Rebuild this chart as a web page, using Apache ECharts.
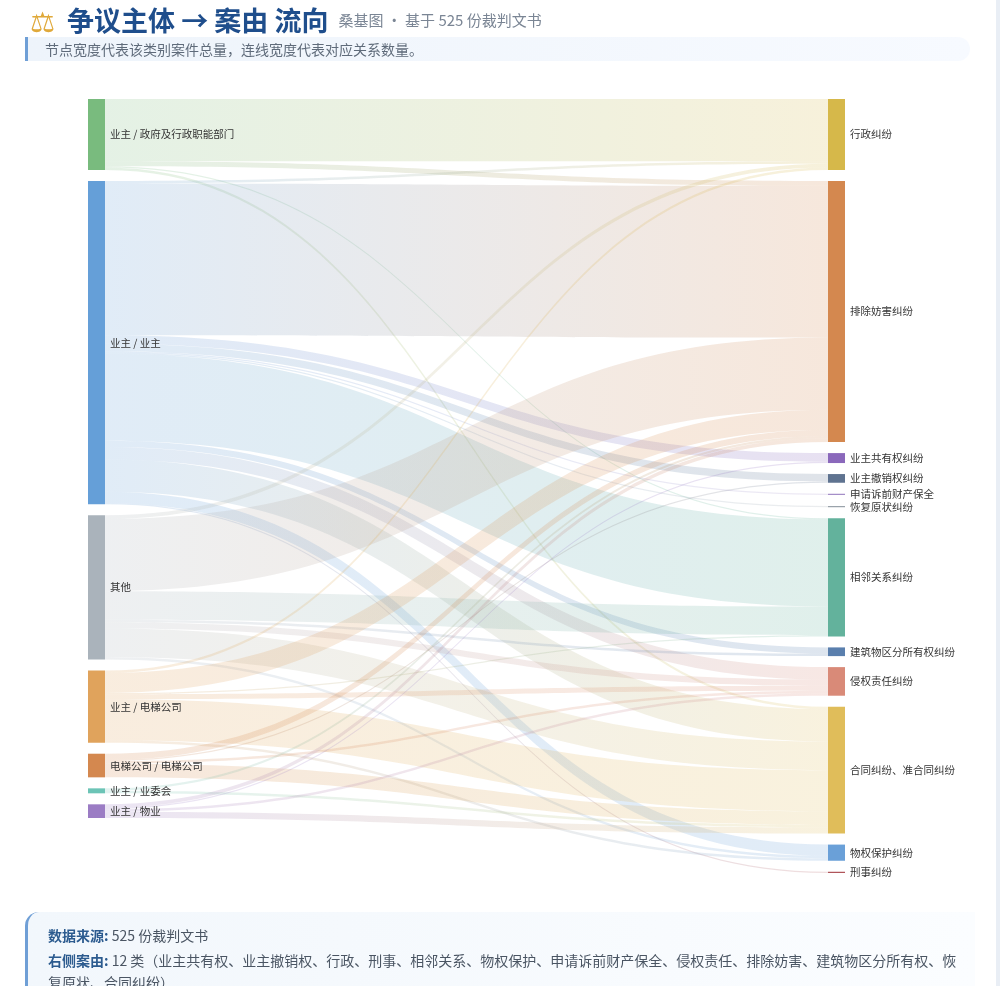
<!DOCTYPE html>
<html lang="zh-CN">
<head>
    <meta charset="UTF-8">
    <title>争议主体 → 案由 流向</title>
    <style>
        html, body {
            margin: 0;
            padding: 0;
            background: #e9eef5;
            font-family: "Noto Sans CJK SC", "Noto Sans", sans-serif;
        }
        .page {
            position: relative;
            width: 996px;
            height: 986px;
            background: #fff;
            overflow: hidden;
        }
        .title {
            position: absolute;
            left: 30px;
            top: 0;
            height: 34px;
            line-height: 34px;
            white-space: nowrap;
        }
        .title .icon { font-size: 28px; color: #e0a93a; vertical-align: middle; margin-right: 12px; }
        .title .main { font-size: 27px; font-weight: bold; color: #1f4e8c; vertical-align: middle; }
        .title .sub { font-size: 15px; color: #7a8594; vertical-align: middle; margin-left: 10px; }
        .desc {
            position: absolute;
            left: 25px;
            top: 37px;
            width: 945px;
            height: 24px;
            line-height: 24px;
            background: linear-gradient(90deg, #eef4fb, #f7faff);
            border-left: 3px solid #6f9fd6;
            border-radius: 0 12px 12px 0;
            font-size: 14px;
            color: #5f6b7a;
            padding-left: 17px;
            box-sizing: border-box;
        }
        #chart {
            position: absolute;
            left: 0;
            top: 0;
            width: 1000px;
            height: 986px;
        }
        .foot {
            position: absolute;
            left: 25px;
            top: 912px;
            width: 950px;
            height: 100px;
            background: linear-gradient(90deg, #f2f7fc, #fbfdff);
            border-left: 3px solid #6f9fd6;
            border-radius: 14px 0 0 0;
            box-sizing: border-box;
            padding: 12px 6px 0 20px;
            font-size: 14px;
            color: #4a5563;
            line-height: 22px;
        }
        .foot p { margin: 0 0 3px 0; }
        .foot b { color: #2c5b8f; }
    </style>
    <script src="https://cdn.jsdelivr.net/npm/echarts@6/dist/echarts.min.js"></script>
</head>
<body>
<div class="page">
    <div id="chart"></div>
    <div class="title"><span class="icon">⚖</span><span class="main">争议主体 → 案由 流向</span><span class="sub">桑基图 · 基于 525 份裁判文书</span></div>
    <div class="desc">节点宽度代表该类别案件总量，连线宽度代表对应关系数量。</div>
    <div class="foot">
        <p><b>数据来源:</b> 525 份裁判文书</p>
        <p><b>右侧案由:</b> 12 类（业主共有权、业主撤销权、行政、刑事、相邻关系、物权保护、申请诉前财产保全、侵权责任、排除妨害、建筑物区分所有权、恢复原状、合同纠纷）</p>
    </div>
</div>

<script>
    // 左侧：争议主体
    var leftNodes = ['业主 / 政府及行政职能部门', '业主 / 业主', '其他', '业主 / 电梯公司', '电梯公司 / 电梯公司', '业主 / 业委会', '业主 / 物业'];
    var leftColors = ['#79bb7e', '#659fd8', '#aab3bb', '#e0a35c', '#d4884f', '#6cc4b6', '#9b7cc4'];

    // 右侧：案由
    var rightNodes = ['行政纠纷', '排除妨害纠纷', '业主共有权纠纷', '业主撤销权纠纷', '申请诉前财产保全', '恢复原状纠纷',
        '相邻关系纠纷', '建筑物区分所有权纠纷', '侵权责任纠纷', '合同纠纷、准合同纠纷', '物权保护纠纷', '刑事纠纷'];
    var rightColors = ['#d6b84a', '#d4884f', '#8a68bb', '#5f7390', '#a58ec8', '#9aa3ab',
        '#63b29c', '#5a7fad', '#d98a78', '#e0bd5a', '#6aa0d8', '#b0555a'];

    // 每个主体流向各案由的数量（列顺序同 rightNodes）
    var flows = [
        [50, 4, 0, 0, 0, 0, 1, 0, 0, 2, 0, 0],
        [2, 122, 7, 6, 1, 1, 70, 5, 10, 26, 9, 1],
        [3, 58, 0, 0, 0, 0, 23, 2, 5, 23, 2, 0],
        [2, 16, 0, 0, 0, 0, 1, 0, 4, 33, 2, 0],
        [0, 5, 0, 1, 0, 0, 0, 0, 2, 11, 0, 0],
        [0, 2, 0, 0, 0, 0, 0, 0, 0, 2, 0, 0],
        [0, 3, 1, 0, 0, 0, 0, 0, 2, 5, 0, 0]
    ];

    var nodes = [];
    leftNodes.forEach(function (n, i) {
        nodes.push({name: n, itemStyle: {color: leftColors[i]}});
    });
    rightNodes.forEach(function (n, i) {
        nodes.push({name: n, itemStyle: {color: rightColors[i]}});
    });

    var links = [];
    flows.forEach(function (row, i) {
        row.forEach(function (v, j) {
            if (v > 0) {
                links.push({source: leftNodes[i], target: rightNodes[j], value: v});
            }
        });
    });

    var myChart = echarts.init(document.getElementById('chart'));
    var option = {
        textStyle: {fontFamily: '"Noto Sans CJK SC", sans-serif'},
        series: [{
            type: 'sankey',
            left: 88,
            right: 155,
            top: 99,
            bottom: 113,
            nodeWidth: 17,
            nodeGap: 11,
            layoutIterations: 0,   // 保持节点顺序
            draggable: false,
            data: nodes,
            links: links,
            label: {
                position: 'right',
                fontSize: 10.5,
                color: '#333'
            },
            lineStyle: {
                color: 'gradient',
                opacity: 0.2,
                curveness: 0.5
            },
            emphasis: {focus: 'adjacency'}
        }]
    };
    myChart.setOption(option);
</script>
</body>
</html>
